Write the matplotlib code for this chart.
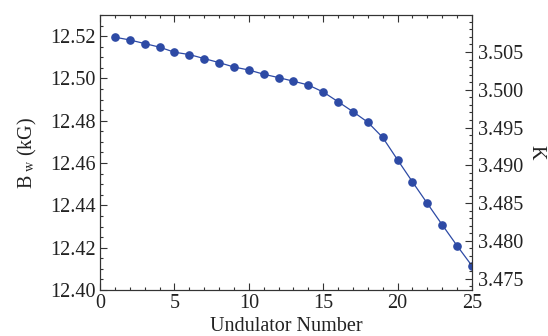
import matplotlib
matplotlib.use("Agg")
import matplotlib.pyplot as plt
from matplotlib.ticker import MultipleLocator, FormatStrFormatter

plt.rcParams['font.family'] = 'serif'
plt.rcParams['font.serif'] = ['Liberation Serif', 'DejaVu Serif']
plt.rcParams['mathtext.fontset'] = 'stix'

undulator = list(range(1, 26))
bw_kg = [12.5195, 12.5182, 12.5165, 12.5148, 12.5124, 12.5113, 12.5094, 12.5075,
         12.5054, 12.5040, 12.5020, 12.5004, 12.4987, 12.4969, 12.4936, 12.4890,
         12.4843, 12.4793, 12.4721, 12.4615, 12.4511, 12.4409, 12.4308, 12.4209,
         12.4114]
k_per_kg = 0.28012  # K = 0.0934 * B[kG]/10 * lambda_u[cm], lambda_u = 3 cm

fig = plt.figure(figsize=(5.48, 3.36), dpi=100)
ax = fig.add_axes([0.1825, 0.1369, 0.6788, 0.8185])

ax.plot(undulator, bw_kg, color='#2d4aa5', lw=0.9, marker='o', ms=5.2,
        markerfacecolor='#2d4aa5', markeredgecolor='#2d4aa5')

ax.set_xlim(0, 25)
ax.set_ylim(12.40, 12.53)
ax.xaxis.set_major_locator(MultipleLocator(5))
ax.xaxis.set_minor_locator(MultipleLocator(1))
ax.yaxis.set_major_locator(MultipleLocator(0.02))
ax.yaxis.set_minor_locator(MultipleLocator(0.005))
ax.yaxis.set_major_formatter(FormatStrFormatter('%.2f'))
ax.tick_params(which='both', direction='in', top=True, right=False,
               labelsize=14.5, pad=3, color='#333333', labelcolor='#222222')
ax.tick_params(which='major', length=5, width=0.8)
ax.tick_params(which='minor', length=2.5, width=0.8)
for s in ax.spines.values():
    s.set_color('#333333')
    s.set_linewidth(0.8)

ax.set_xlabel('Undulator Number', fontsize=14.5, labelpad=3, color='#222222')
ax.set_ylabel(r'B$_{\rm\ w}$ (kG)', fontsize=14.5, labelpad=8, color='#222222')

ax2 = ax.twinx()
ax2.set_ylim(12.40 * k_per_kg, 12.53 * k_per_kg)
ax2.yaxis.set_major_locator(MultipleLocator(0.005))
ax2.yaxis.set_minor_locator(MultipleLocator(0.001))
ax2.yaxis.set_major_formatter(FormatStrFormatter('%.3f'))
ax2.tick_params(which='both', direction='in', labelsize=14.5, pad=4,
                color='#333333', labelcolor='#222222')
ax2.tick_params(which='major', length=5, width=0.8)
ax2.tick_params(which='minor', length=2.5, width=0.8)
for s in ax2.spines.values():
    s.set_color('#333333')
    s.set_linewidth(0.8)
ax2.set_ylabel('K', fontsize=14.5, rotation=270, labelpad=16, color='#222222')

fig.savefig('out.png', dpi=100)
